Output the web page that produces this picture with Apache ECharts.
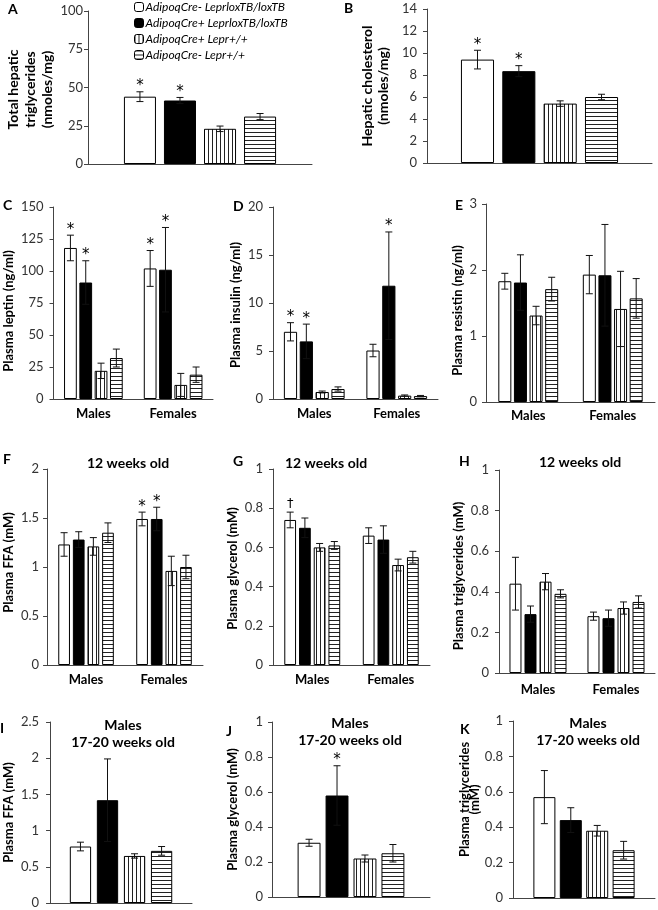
<!DOCTYPE html>
<html><head><meta charset="utf-8">
<script src="https://cdn.jsdelivr.net/npm/echarts@6/dist/echarts.min.js"></script>
<style>html,body{margin:0;padding:0;background:#fff}#c{width:658px;height:910px}</style>
</head><body><div id="c"></div>
<script>
// ---------- DATA ----------
const groups = ['AdipoqCre- LeprloxTB/loxTB', 'AdipoqCre+ LeprloxTB/loxTB', 'AdipoqCre+ Lepr+/+', 'AdipoqCre- Lepr+/+'];
const sexes = ['Males', 'Females'];
const single = [''];
// values are [group][category]
const hepTgMean = [[44], [41.5], [23], [31]];
const hepTgSem = [[3.2], [2], [1.8], [2]];
const hepTgSig = [['*'], ['*'], [''], ['']];
const hepCholMean = [[9.4], [8.35], [5.4], [6.0]];
const hepCholSem = [[0.85], [0.5], [0.25], [0.25]];
const hepCholSig = [['*'], ['*'], [''], ['']];
const leptinMean = [[118, 102], [91, 101], [22, 11], [32, 19]];
const leptinSem = [[10, 14], [17, 33], [6, 9], [7, 6]];
const leptinSig = [['*', '*'], ['*', '*'], ['', ''], ['', '']];
const insulinMean = [[7.0, 5.05], [6.0, 11.8], [0.73, 0.35], [1.04, 0.3]];
const insulinSem = [[0.95, 0.65], [1.8, 5.6], [0.1, 0.07], [0.22, 0.07]];
const insulinSig = [['*', ''], ['*', '*'], ['', ''], ['', '']];
const resistinMean = [[1.83, 1.93], [1.81, 1.92], [1.31, 1.41], [1.71, 1.57]];
const resistinSem = [[0.12, 0.29], [0.42, 0.77], [0.14, 0.57], [0.18, 0.30]];
const resistinSig = [['', ''], ['', ''], ['', ''], ['', '']];
const ffa12Mean = [[1.23, 1.49], [1.28, 1.49], [1.21, 0.96], [1.35, 1.0]];
const ffa12Sem = [[0.12, 0.07], [0.08, 0.12], [0.09, 0.15], [0.1, 0.12]];
const ffa12Sig = [['', '*'], ['', '*'], ['', ''], ['', '']];
const gly12Mean = [[0.74, 0.66], [0.70, 0.64], [0.60, 0.51], [0.61, 0.55]];
const gly12Sem = [[0.04, 0.04], [0.05, 0.07], [0.02, 0.03], [0.02, 0.03]];
const gly12Sig = [['\u2020', ''], ['', ''], ['', ''], ['', '']];
const tg12Mean = [[0.44, 0.28], [0.29, 0.27], [0.45, 0.32], [0.39, 0.35]];
const tg12Sem = [[0.13, 0.02], [0.04, 0.04], [0.04, 0.03], [0.02, 0.03]];
const tg12Sig = [['', ''], ['', ''], ['', ''], ['', '']];
const ffaOldMean = [[0.78], [1.42], [0.65], [0.72]];
const ffaOldSem = [[0.06], [0.57], [0.03], [0.06]];
const ffaOldSig = [[''], [''], [''], ['']];
const glyOldMean = [[0.31], [0.58], [0.22], [0.25]];
const glyOldSem = [[0.02], [0.17], [0.02], [0.05]];
const glyOldSig = [[''], ['*'], [''], ['']];
const tgOldMean = [[0.57], [0.44], [0.38], [0.27]];
const tgOldSem = [[0.15], [0.07], [0.03], [0.05]];
const tgOldSig = [[''], [''], [''], ['']];

// ---------- LAYOUT ----------
const FONT = 'Lato, "Open Sans", sans-serif';
const panels = [
  {cats: single, mean: hepTgMean, sem: hepTgSem, sig: hepTgSig, max: 100, step: 25, name: 'Total hepatic\ntriglycerides\n(nmoles/mg)', fs: 14, gap: 31, lh: 17, shift: 4, grid: {left: 88, top: 11, width: 224, height: 153}, bw: 0.143, bg: 0.25, lm: 5},
  {cats: single, mean: hepCholMean, sem: hepCholSem, sig: hepCholSig, max: 14, step: 2, name: 'Hepatic cholesterol\n(nmoles/mg)', fs: 14, gap: 36, lh: 16, shift: 0, grid: {left: 427, top: 9, width: 225, height: 154}, bw: 0.147, bg: 0.25, lm: 10},
  {cats: sexes, mean: leptinMean, sem: leptinSem, sig: leptinSig, max: 150, step: 25, name: 'Plasma leptin (ng/ml)', fs: 13, gap: 32, lh: 16, shift: 16, grid: {left: 50, top: 207, width: 163, height: 192}, bw: 0.16, bg: 0.2, lm: 10, xm: 8},
  {cats: sexes, mean: insulinMean, sem: insulinSem, sig: insulinSig, max: 20, step: 5, name: 'Plasma insulin (ng/ml)', fs: 13, gap: 24, lh: 16, shift: 4, grid: {left: 273, top: 207, width: 165, height: 192}, bw: 0.16, bg: 0.2, lm: 10, xm: 8},
  {cats: sexes, mean: resistinMean, sem: resistinSem, sig: resistinSig, max: 3, step: 1, name: 'Plasma resistin (ng/ml)', fs: 13, gap: 18, lh: 16, shift: 15, grid: {left: 486, top: 204, width: 169, height: 198}, bw: 0.154, bg: 0.2, lm: 9, xm: 7},
  {cats: sexes, mean: ffa12Mean, sem: ffa12Sem, sig: ffa12Sig, max: 2, step: 0.5, name: 'Plasma FFA (mM)', fs: 13, gap: 26, lh: 16, shift: -9, grid: {left: 43, top: 469, width: 160, height: 196}, bw: 0.15, bg: 0.25, lm: 8, xm: 8},
  {cats: sexes, mean: gly12Mean, sem: gly12Sem, sig: gly12Sig, max: 1, step: 0.2, name: 'Plasma glycerol (mM)', fs: 13, gap: 24, lh: 16, shift: 3, grid: {left: 273, top: 469, width: 157, height: 196}, bw: 0.15, bg: 0.25, lm: 10, xm: 8},
  {cats: sexes, mean: tg12Mean, sem: tg12Sem, sig: tg12Sig, max: 1, step: 0.2, name: 'Plasma triglycerides (mM)', fs: 13, gap: 31, lh: 16, shift: 9, grid: {left: 499, top: 470, width: 156, height: 203}, bw: 0.154, bg: 0.25, lm: 10, xm: 10},
  {cats: single, mean: ffaOldMean, sem: ffaOldSem, sig: ffaOldSig, max: 2.5, step: 0.5, name: 'Plasma FFA (mM)', fs: 13, gap: 29, lh: 16, shift: 0, grid: {left: 46, top: 722, width: 146, height: 181}, bw: 0.15, bg: 0.27, lm: 11},
  {cats: single, mean: glyOldMean, sem: glyOldSem, sig: glyOldSig, max: 1, step: 0.2, name: 'Plasma glycerol (mM)', fs: 13, gap: 30, lh: 16, shift: 0, grid: {left: 272, top: 722, width: 158, height: 175}, bw: 0.145, bg: 0.22, lm: 9},
  {cats: single, mean: tgOldMean, sem: tgOldSem, sig: tgOldSig, max: 1, step: 0.2, name: 'Plasma triglycerides\n(mM)', fs: 13, gap: 32, lh: 10, shift: -20, grid: {left: 513, top: 721, width: 142, height: 177}, bw: 0.155, bg: 0.2, lm: 10}
];

const letters = [['A', 8, 9], ['B', 344, 8], ['C', 3, 205], ['D', 233, 206], ['E', 455, 205], ['F', 3, 459], ['G', 233, 461], ['H', 459, 461], ['I', 0, 728], ['J', 226, 731], ['K', 460, 729]];
const titles = [['12 weeks old', 128, 463], ['12 weeks old', 326, 463], ['12 weeks old', 580, 462], ['Males\n17-20 weeks old', 123, 734], ['Males\n17-20 weeks old', 350, 732], ['Males\n17-20 weeks old', 588, 732]];

// ---------- PATTERNS ----------
function stripes(vertical) {
  const c = document.createElement('canvas');
  c.width = 4; c.height = 4;
  const ctx = c.getContext('2d');
  ctx.fillStyle = '#fff'; ctx.fillRect(0, 0, 4, 4);
  ctx.fillStyle = '#222';
  if (vertical) ctx.fillRect(0, 0, 1, 4); else ctx.fillRect(0, 0, 4, 1);
  return {image: c, repeat: 'repeat'};
}
const fills = ['#ffffff', '#000000', stripes(true), stripes(false)];

// ---------- OPTION ----------
const grids = [], xAxes = [], yAxes = [], series = [];
panels.forEach((p, pi) => {
  grids.push(Object.assign({containLabel: false}, p.grid));
  xAxes.push({
    type: 'category', gridIndex: pi, data: p.cats,
    axisLine: {lineStyle: {color: '#444', width: 1}},
    axisTick: {show: false},
    axisLabel: {show: p.cats.length > 1, margin: p.xm || 8, fontFamily: FONT, fontSize: 13, fontWeight: 'bold', color: '#000'}
  });
  yAxes.push({
    type: 'value', gridIndex: pi, min: 0, max: p.max, interval: p.step,
    splitLine: {show: false},
    axisLine: {show: true, lineStyle: {color: '#444', width: 1}},
    axisTick: {show: true, length: 4, lineStyle: {color: '#444'}},
    axisLabel: {margin: p.lm, fontFamily: FONT, fontSize: 13, color: '#333'},
    name: p.name, nameLocation: 'middle', nameRotate: 90, nameGap: p.gap,
    nameTextStyle: {fontFamily: FONT, fontSize: p.fs, fontWeight: 'bold', color: '#000', lineHeight: p.lh,
      padding: p.shift >= 0 ? [0, p.shift, 0, 0] : [0, 0, 0, -p.shift]}
  });
  for (let g = 0; g < 4; g++) {
    series.push({
      type: 'bar', name: groups[g], xAxisIndex: pi, yAxisIndex: pi,
      data: p.mean[g], barWidth: (p.bw * 100) + '%', barGap: (p.bg * 100) + '%',
      itemStyle: {color: fills[g], borderColor: '#000', borderWidth: 1},
      silent: true, z: 2
    });
  }
  for (let g = 0; g < 4; g++) {
    const data = p.cats.map((c, ci) => [ci, p.mean[g][ci] - p.sem[g][ci], p.mean[g][ci] + p.sem[g][ci]]);
    series.push({
      type: 'custom', xAxisIndex: pi, yAxisIndex: pi, data: data, z: 5, silent: true,
      renderItem: (params, api) => {
        const ci = api.value(0), lo = api.value(1), hi = api.value(2);
        const band = api.size([1, 0])[0];
        const bw = band * p.bw, gp = bw * p.bg;
        const total = 4 * bw + 3 * gp;
        const cx = api.coord([ci, 0])[0] - total / 2 + g * (bw + gp) + bw / 2;
        const yHi = api.coord([ci, hi])[1], yLo = api.coord([ci, lo])[1];
        const cap = 3.5;
        const ls = {stroke: '#111', lineWidth: 1};
        const children = [
          {type: 'line', shape: {x1: cx, y1: yLo, x2: cx, y2: yHi}, style: ls},
          {type: 'line', shape: {x1: cx - cap, y1: yHi, x2: cx + cap, y2: yHi}, style: ls},
          {type: 'line', shape: {x1: cx - cap, y1: yLo, x2: cx + cap, y2: yLo}, style: ls}
        ];
        const mark = p.sig[g][params.dataIndex];
        if (mark) {
          const dag = mark === '\u2020';
          children.push({type: 'text', x: cx, y: dag ? yHi - 2 : yHi + 2, style: {text: mark, font: (dag ? '13px' : '15px') + ' "DejaVu Sans", sans-serif', fill: '#000',
            align: 'center', verticalAlign: 'bottom', textAlign: 'center', textVerticalAlign: 'bottom'}});
        }
        return {type: 'group', children: children};
      }
    });
  }
});

const graphics = [];
letters.forEach(([t, x, y]) => graphics.push({type: 'text', x: x, y: y, style: {text: t, font: 'bold 14px ' + FONT, fill: '#000', align: 'left', verticalAlign: 'middle', textAlign: 'left', textVerticalAlign: 'middle'}}));
titles.forEach(([t, x, y]) => graphics.push({type: 'text', x: x, y: y, style: {text: t, font: 'bold 14px ' + FONT, lineHeight: 17, fill: '#000', align: 'center', verticalAlign: 'middle', textAlign: 'center', textVerticalAlign: 'middle'}}));

const chart = echarts.init(document.getElementById('c'), null, {renderer: 'canvas'});
chart.setOption({
  animation: false,
  backgroundColor: '#fff',
  textStyle: {fontFamily: FONT},
  grid: grids, xAxis: xAxes, yAxis: yAxes, series: series,
  legend: {
    data: groups, orient: 'vertical', left: 134, top: 0, padding: 0,
    itemWidth: 9, itemHeight: 9, itemGap: 2, selectedMode: false,
    itemStyle: {borderColor: '#000', borderWidth: 1},
    textStyle: {fontFamily: FONT, fontSize: 12, fontStyle: 'italic', color: '#000', lineHeight: 14, padding: [0, 0, 0, -3]}
  },
  graphic: graphics
});
</script>
</body></html>
